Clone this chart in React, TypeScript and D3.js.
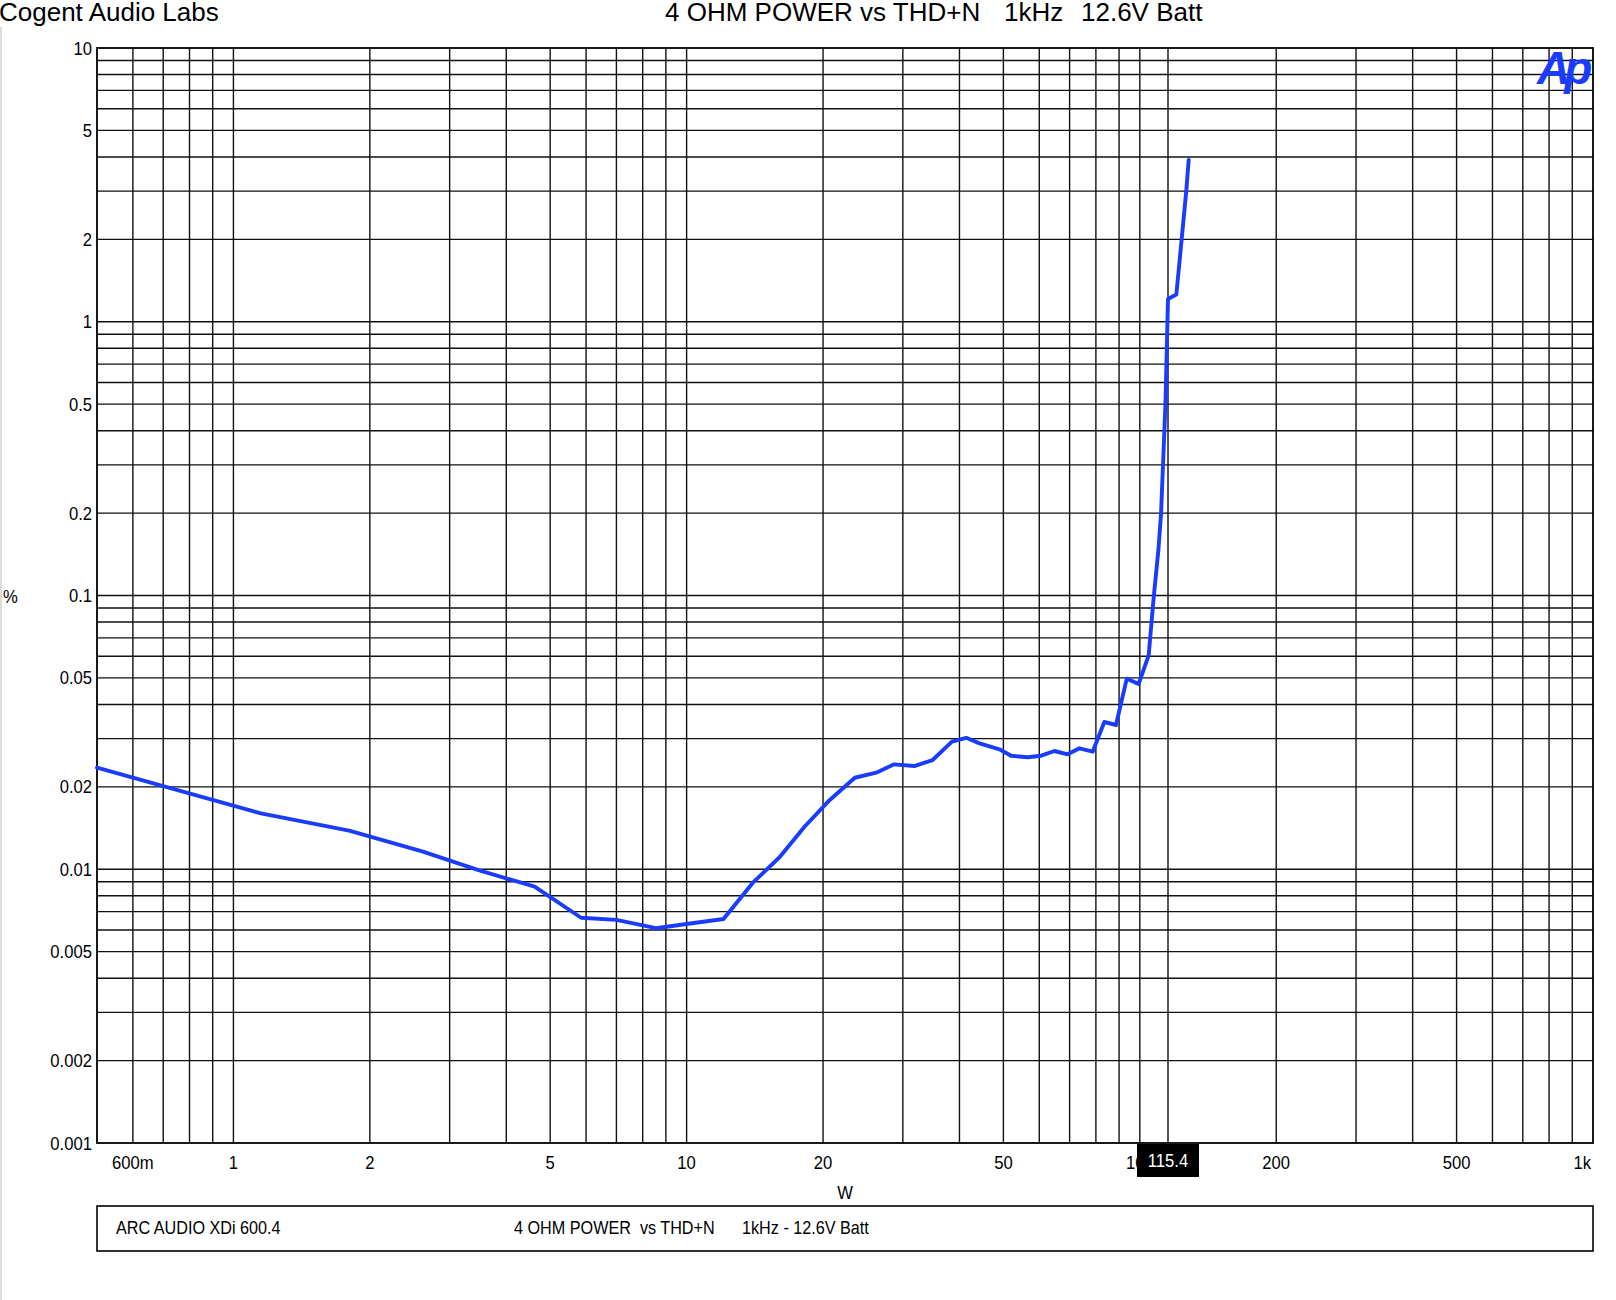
import React from "react";
import * as d3 from "d3";

// ---- data ----
const POWER_W = [0.5, 1.15, 1.8, 2.62, 3.46, 4.62, 5.85, 7.0, 8.56, 10.0, 12.06, 14.0, 16.0, 18.2, 20.7, 23.5, 26.2, 28.7, 31.8, 34.9, 38.5, 41.4, 44.3, 49.0, 52.0, 56.6, 60.6, 64.8, 69.3, 73.6, 78.7, 83.5, 88.6, 93.6, 99.4, 104.6, 107.3, 109.9, 111.4, 113.9, 115.4, 120.4, 126.6, 128.2];
const THD_PCT = [0.0235, 0.016, 0.01383, 0.01159, 0.00994, 0.00864, 0.00665, 0.00653, 0.00609, 0.00631, 0.00658, 0.00893, 0.01102, 0.0143, 0.01791, 0.02159, 0.02253, 0.02417, 0.02382, 0.02506, 0.02924, 0.03022, 0.02884, 0.02743, 0.02599, 0.02564, 0.02599, 0.02704, 0.0263, 0.02766, 0.02688, 0.03451, 0.03365, 0.0497, 0.0475, 0.0604, 0.0982, 0.1466, 0.1996, 0.4965, 1.211, 1.257, 2.99, 3.9];

const X_TICKS = [0.6, 1, 2, 5, 10, 20, 50, 100, 200, 500, 1000];
const X_TICK_LABELS = ["600m", "1", "2", "5", "10", "20", "50", "100", "200", "500", "1k"];
const Y_TICKS = [10, 5, 2, 1, 0.5, 0.2, 0.1, 0.05, 0.02, 0.01, 0.005, 0.002, 0.001];
const Y_TICK_LABELS = ["10", "5", "2", "1", "0.5", "0.2", "0.1", "0.05", "0.02", "0.01", "0.005", "0.002", "0.001"];
const CURSOR_X = 115.4;
const CURSOR_LABEL = "115.4";

const HEADER_LEFT = "Cogent Audio Labs";
const TITLE_PARTS = ["4 OHM POWER vs THD+N", "1kHz", "12.6V Batt"];
const X_LABEL = "W";
const Y_LABEL = "%";
const LEGEND_LEFT = "ARC AUDIO XDi 600.4";
const LEGEND_MID = "4 OHM POWER  vs THD+N";
const LEGEND_RIGHT = "1kHz - 12.6V Batt";

const FONT = "'Liberation Sans', Arial, Helvetica, sans-serif";
const BLUE = "#1a3cff";

export default function App() {
  const W = 1616, H = 1300;
  const L = 97, R = 1593, T = 48, B = 1143;
  const x = d3.scaleLog().domain([0.5, 1000]).range([L, R]);
  const y = d3.scaleLog().domain([0.001, 10]).range([B, T]);

  const xGrid: number[] = [];
  for (let e = -1; e <= 2; e++) for (let k = 1; k <= 9; k++) {
    const v = k * Math.pow(10, e);
    if (v > 0.5 && v < 1000) xGrid.push(v);
  }
  const yGrid: number[] = [];
  for (let e = -3; e <= 0; e++) for (let k = 1; k <= 9; k++) {
    const v = k * Math.pow(10, e);
    if (v > 0.001 && v < 10) yGrid.push(v);
  }

  const pts = POWER_W.map((p, i) => [p, THD_PCT[i]] as [number, number]);
  const line = d3.line<[number, number]>().x(d => x(d[0])).y(d => y(d[1]));

  const sx = 0.9;
  const lab = (tx: number, ty: number) => `translate(${tx},${ty}) scale(${sx},1)`;

  return (
    <div style={{ position: "absolute", left: 0, top: 0 }}>
      <svg width={W} height={H} style={{ display: "block", background: "#fff" }} fontFamily={FONT}>
        <rect x={0} y={0} width={W} height={H} fill="#fff" />
        <line x1={1} x2={1} y1={27} y2={H} stroke="#dcdcdc" strokeWidth={2} />

        <text x={-1} y={21} fontSize={26} fill="#000">{HEADER_LEFT}</text>
        <text x={665} y={21} fontSize={26} fill="#000">{TITLE_PARTS[0]}</text>
        <text x={1004} y={21} fontSize={26} fill="#000">{TITLE_PARTS[1]}</text>
        <text x={1081} y={21} fontSize={26} fill="#000">{TITLE_PARTS[2]}</text>

        {/* grid */}
        <g stroke="#111" strokeWidth={1.4}>
          {xGrid.map(v => (
            <line key={"xg" + v} x1={x(v)} x2={x(v)} y1={T} y2={B} />
          ))}
          {yGrid.map(v => (
            <line key={"yg" + v} x1={L} x2={R} y1={y(v)} y2={y(v)} />
          ))}
          <line x1={x(CURSOR_X)} x2={x(CURSOR_X)} y1={T} y2={B} />
        </g>
        <rect x={L} y={T} width={R - L} height={B - T} fill="none" stroke="#000" strokeWidth={1.8} />

        {/* curve */}
        <path d={line(pts) || ""} fill="none" stroke={BLUE} strokeWidth={3.9} strokeLinejoin="round" strokeLinecap="round" />

        {/* Ap logo */}
        <text x={1537} y={84} fontSize={46} fontWeight={900} fontStyle="italic" fill={BLUE} letterSpacing={-6} fontFamily="'Liberation Sans', Arial, sans-serif">Ap</text>

        {/* y tick labels */}
        {Y_TICKS.map((v, i) => (
          <text key={"yl" + v} transform={lab(92, y(v) + 6.5)} fontSize={18.5} textAnchor="end" fill="#000">{Y_TICK_LABELS[i]}</text>
        ))}
        <text transform={lab(3, 603)} fontSize={18.5} fill="#000">{Y_LABEL}</text>

        {/* x tick labels */}
        {X_TICKS.map((v, i) => {
          const last = i === X_TICKS.length - 1;
          return (
            <text key={"xl" + v} transform={lab(last ? x(v) - 2 : x(v), 1169)} fontSize={18.5} textAnchor={last ? "end" : "middle"} fill="#000">{X_TICK_LABELS[i]}</text>
          );
        })}
        <text transform={lab(x(Math.sqrt(0.5 * 1000)), 1199)} fontSize={18.5} textAnchor="middle" fill="#000">{X_LABEL}</text>

        {/* cursor readout */}
        <rect x={x(CURSOR_X) - 31} y={B + 1} width={62} height={33} fill="#000" />
        <text transform={lab(x(CURSOR_X), 1167)} fontSize={18.5} textAnchor="middle" fill="#fff">{CURSOR_LABEL}</text>

        {/* legend box */}
        <rect x={L} y={1206} width={R - L} height={45} fill="#fff" stroke="#000" strokeWidth={1.6} />
        <text transform={lab(116, 1234)} fontSize={18} fill="#000">{LEGEND_LEFT}</text>
        <text transform={lab(514, 1234)} fontSize={18} fill="#000" style={{ whiteSpace: "pre" }}>{LEGEND_MID}</text>
        <text transform={lab(742, 1234)} fontSize={18} fill="#000">{LEGEND_RIGHT}</text>
      </svg>
    </div>
  );
}
